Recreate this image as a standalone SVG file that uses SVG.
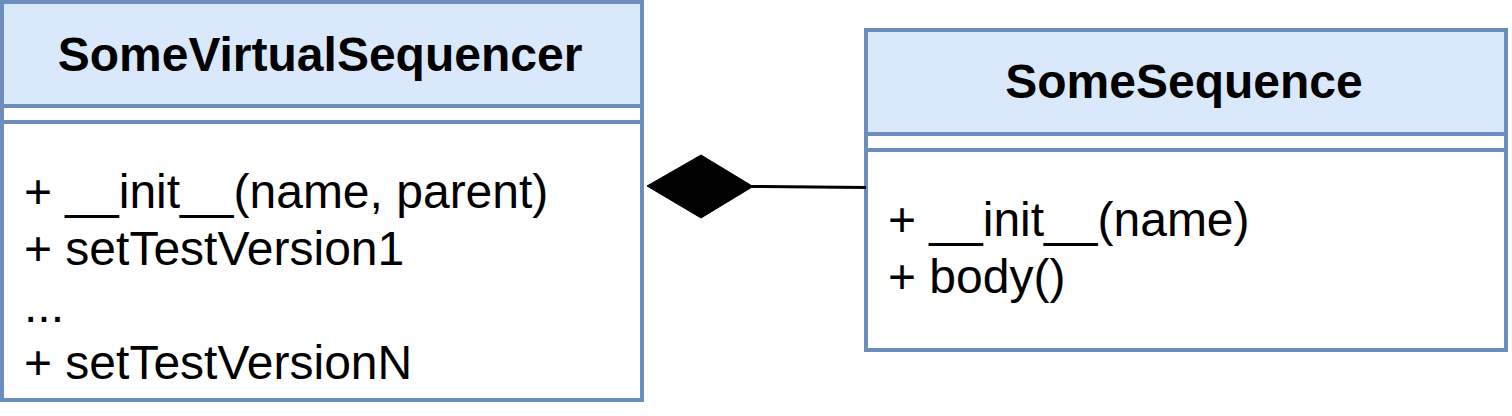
<svg xmlns="http://www.w3.org/2000/svg" width="1512" height="416" viewBox="0 0 1512 416">
  <style>
    .box { fill: #ffffff; stroke: #6c8ebf; stroke-width: 4; }
    .hdr { fill: #dae8fc; stroke: #6c8ebf; stroke-width: 4; }
    .sep { stroke: #6c8ebf; stroke-width: 4; fill: none; }
    .title { font-family: "Liberation Sans", Arial, sans-serif; font-size: 48px; font-weight: bold; fill: #000000; text-anchor: middle; }
    .member { font-family: "Liberation Sans", Arial, sans-serif; font-size: 48px; fill: #000000; }
    .edge { stroke: #000000; stroke-width: 3; fill: none; }
  </style>
  <rect width="1512" height="416" fill="#ffffff"/>
  <g id="SomeVirtualSequencer">
    <rect class="box" x="2" y="2" width="640" height="398"/>
    <rect class="hdr" x="2" y="2" width="640" height="104"/>
    <line class="sep" x1="2" y1="122" x2="642" y2="122"/>
    <text class="title" x="320" y="71">SomeVirtualSequencer</text>
    <text class="member" x="24" y="208">+ __init__(name, parent)</text>
    <text class="member" x="24" y="265">+ setTestVersion1</text>
    <text class="member" x="24" y="322">...</text>
    <text class="member" x="24" y="379">+ setTestVersionN</text>
  </g>
  <g id="SomeSequence">
    <rect class="box" x="866" y="30" width="640" height="320"/>
    <rect class="hdr" x="866" y="30" width="640" height="104"/>
    <line class="sep" x1="866" y1="150" x2="1506" y2="150"/>
    <text class="title" x="1184" y="98">SomeSequence</text>
    <text class="member" x="888" y="236">+ __init__(name)</text>
    <text class="member" x="888" y="293">+ body()</text>
  </g>
  <g id="connectors">
    <line class="edge" x1="752" y1="186.5" x2="866" y2="187.5"/>
    <polygon points="647,186 701,155 753,186.5 701,218" fill="#000000" stroke="#000000" stroke-width="1"/>
  </g>
</svg>
